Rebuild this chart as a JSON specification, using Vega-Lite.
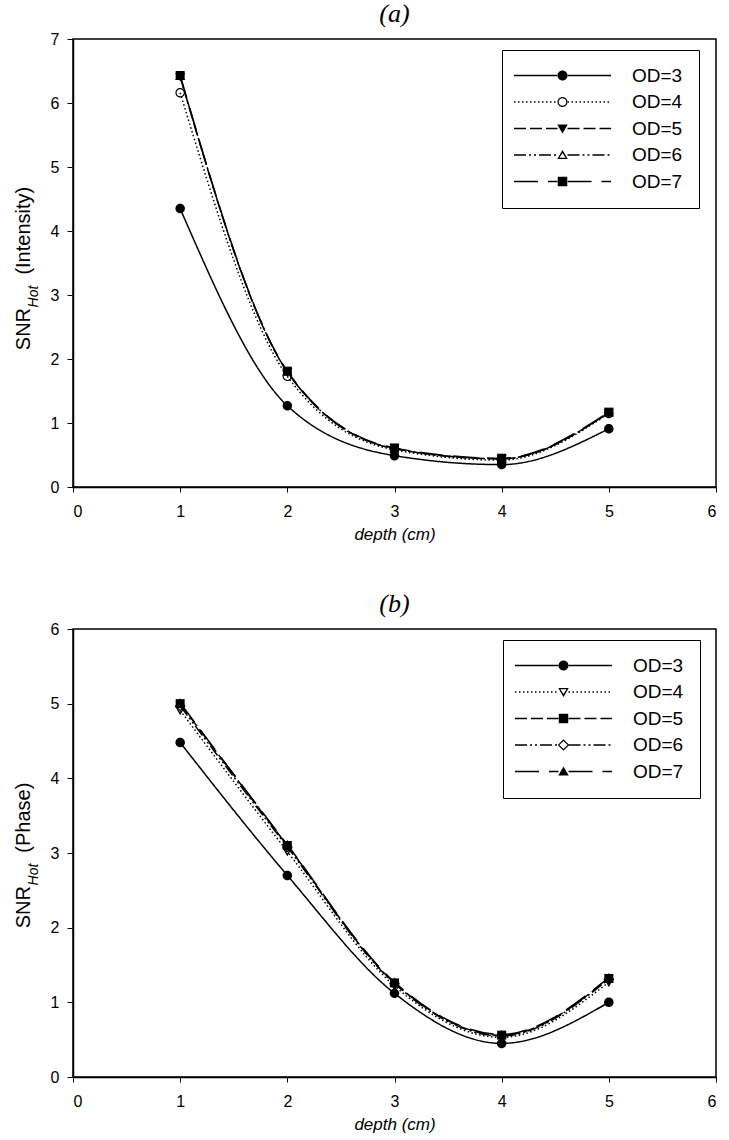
{
  "$schema": "https://vega.github.io/schema/vega-lite/v6.json",
  "background": "white",
  "padding": {"left": 12, "top": 0, "right": 5, "bottom": 5},
  "spacing": 47,
  "config": {
    "view": {"stroke": "black", "strokeWidth": 1.5},
    "font": "Liberation Sans",
    "axis": {"grid": false, "domainColor": "black", "domainWidth": 1.5, "tickColor": "black", "tickWidth": 1, "labelColor": "black", "titleColor": "black", "labelFont": "Liberation Sans", "titleFont": "Liberation Sans", "labelFontSize": 16, "titleFontWeight": "normal"},
    "title": {"font": "Liberation Serif", "fontStyle": "italic", "fontWeight": "normal", "fontSize": 26, "color": "black", "offset": 0}
  },
  "datasets": {
    "intensity": [
      {"od": "OD=3", "depth": 1, "snr": 4.35}, {"od": "OD=3", "depth": 2, "snr": 1.27}, {"od": "OD=3", "depth": 3, "snr": 0.49}, {"od": "OD=3", "depth": 4, "snr": 0.35}, {"od": "OD=3", "depth": 5, "snr": 0.91},
      {"od": "OD=4", "depth": 1, "snr": 6.16}, {"od": "OD=4", "depth": 2, "snr": 1.73}, {"od": "OD=4", "depth": 3, "snr": 0.58}, {"od": "OD=4", "depth": 4, "snr": 0.42}, {"od": "OD=4", "depth": 5, "snr": 1.15},
      {"od": "OD=5", "depth": 1, "snr": 6.41}, {"od": "OD=5", "depth": 2, "snr": 1.80}, {"od": "OD=5", "depth": 3, "snr": 0.60}, {"od": "OD=5", "depth": 4, "snr": 0.44}, {"od": "OD=5", "depth": 5, "snr": 1.16},
      {"od": "OD=6", "depth": 1, "snr": 6.42}, {"od": "OD=6", "depth": 2, "snr": 1.80}, {"od": "OD=6", "depth": 3, "snr": 0.60}, {"od": "OD=6", "depth": 4, "snr": 0.44}, {"od": "OD=6", "depth": 5, "snr": 1.16},
      {"od": "OD=7", "depth": 1, "snr": 6.43}, {"od": "OD=7", "depth": 2, "snr": 1.81}, {"od": "OD=7", "depth": 3, "snr": 0.61}, {"od": "OD=7", "depth": 4, "snr": 0.45}, {"od": "OD=7", "depth": 5, "snr": 1.17}
    ],
    "phase": [
      {"od": "OD=3", "depth": 1, "snr": 4.48}, {"od": "OD=3", "depth": 2, "snr": 2.70}, {"od": "OD=3", "depth": 3, "snr": 1.12}, {"od": "OD=3", "depth": 4, "snr": 0.45}, {"od": "OD=3", "depth": 5, "snr": 1.00},
      {"od": "OD=4", "depth": 1, "snr": 4.91}, {"od": "OD=4", "depth": 2, "snr": 3.02}, {"od": "OD=4", "depth": 3, "snr": 1.22}, {"od": "OD=4", "depth": 4, "snr": 0.53}, {"od": "OD=4", "depth": 5, "snr": 1.27},
      {"od": "OD=5", "depth": 1, "snr": 5.00}, {"od": "OD=5", "depth": 2, "snr": 3.10}, {"od": "OD=5", "depth": 3, "snr": 1.26}, {"od": "OD=5", "depth": 4, "snr": 0.56}, {"od": "OD=5", "depth": 5, "snr": 1.32},
      {"od": "OD=6", "depth": 1, "snr": 4.97}, {"od": "OD=6", "depth": 2, "snr": 3.08}, {"od": "OD=6", "depth": 3, "snr": 1.25}, {"od": "OD=6", "depth": 4, "snr": 0.55}, {"od": "OD=6", "depth": 5, "snr": 1.31},
      {"od": "OD=7", "depth": 1, "snr": 5.01}, {"od": "OD=7", "depth": 2, "snr": 3.11}, {"od": "OD=7", "depth": 3, "snr": 1.27}, {"od": "OD=7", "depth": 4, "snr": 0.57}, {"od": "OD=7", "depth": 5, "snr": 1.33}
    ]
  },
  "vconcat": [
    {
      "width": 643, "height": 448,
      "title": {"text": "(a)"},
      "data": {"name": "intensity"},
      "encoding": {
        "x": {"field": "depth", "type": "quantitative", "scale": {"domain": [0, 6], "nice": false},
              "axis": {"values": [0, 1, 2, 3, 4, 5, 6], "tickSize": 5, "labelPadding": 11, "title": "depth (cm)", "titleFontStyle": "italic", "titleFontSize": 17, "titlePadding": 7}}
      },
      "layer": [
        {
          "mark": {"type": "line", "interpolate": "monotone", "stroke": "black", "strokeWidth": 1.5},
          "encoding": {
            "y": {"field": "snr", "type": "quantitative", "scale": {"domain": [0, 7], "nice": false},
                  "axis": {"orient": "left", "values": [0, 1, 2, 3, 4, 5, 6, 7], "tickSize": 6, "labelPadding": 8, "title": "SNR\u00a0\u00a0\u00a0\u00a0\u00a0\u00a0(Intensity)", "titleFontSize": 20, "titleX": -50, "titleY": 229, "titleAlign": "center", "titleBaseline": "middle", "titleAngle": -90}},
            "strokeDash": {"field": "od", "type": "nominal", "scale": {"domain": ["OD=3", "OD=4", "OD=5", "OD=6", "OD=7"], "range": [[1, 0], [1.5, 2.5], [12, 4], [12, 3, 2, 3, 2, 3], [24, 10]]},
                  "legend": {"orient": "none", "legendX": 429, "legendY": 11, "title": null, "direction": "vertical", "symbolType": "M-9.7,0L-1,0M1,0L9.7,0", "symbolSize": 100, "symbolOffset": 35, "symbolStrokeWidth": 1.5, "symbolStrokeColor": "black", "symbolFillColor": "transparent", "labelFont": "Liberation Sans", "labelFontSize": 19, "labelColor": "black", "labelOffset": 60, "rowPadding": 6.5, "padding": 16, "strokeColor": "black", "cornerRadius": 0}}
          }
        },
        {
          "mark": {"type": "point", "filled": true, "color": "black", "strokeWidth": 0, "size": 90, "opacity": 1},
          "encoding": {
            "y": {"field": "snr", "type": "quantitative", "scale": {"domain": [0, 7], "nice": false},
                  "axis": {"orient": "right", "values": [0, 1, 2, 3, 4, 5, 6, 7], "labels": false, "ticks": false, "domain": false, "title": "Hot", "titleFontSize": 14, "titleFontStyle": "italic", "titleX": -683, "titleY": 257, "titleAlign": "center", "titleBaseline": "middle", "titleAngle": -90}},
            "shape": {"field": "od", "type": "nominal", "scale": {"range": [
                    "M1,0A1,1,0,1,1,-1,0A1,1,0,1,1,1,0Z",
                    "M1,0A1,1,0,1,1,-1,0A1,1,0,1,1,1,0ZM0.76,0A0.76,0.76,0,1,0,-0.76,0A0.76,0.76,0,1,0,0.76,0Z",
                    "M0,1L1.05,-0.8L-1.05,-0.8Z",
                    "M0,-1L1.05,0.8L-1.05,0.8ZM0,-0.42L-0.62,0.57L0.62,0.57Z",
                    "M-0.95,-0.95L0.95,-0.95L0.95,0.95L-0.95,0.95Z"]},
                  "legend": {"orient": "none", "legendX": 429, "legendY": 11, "title": null, "direction": "vertical", "symbolSize": 100, "symbolOffset": 35, "symbolStrokeWidth": 0, "symbolFillColor": "black", "labelFont": "Liberation Sans", "labelFontSize": 19, "labelOpacity": 0, "labelOffset": 60, "rowPadding": 6.5, "padding": 16}}
          }
        }
      ],
      "resolve": {"axis": {"y": "independent"}}
    },
    {
      "width": 643, "height": 448,
      "title": {"text": "(b)"},
      "data": {"name": "phase"},
      "encoding": {
        "x": {"field": "depth", "type": "quantitative", "scale": {"domain": [0, 6], "nice": false},
              "axis": {"values": [0, 1, 2, 3, 4, 5, 6], "tickSize": 5, "labelPadding": 11, "title": "depth (cm)", "titleFontStyle": "italic", "titleFontSize": 17, "titlePadding": 7}}
      },
      "layer": [
        {
          "mark": {"type": "line", "interpolate": "monotone", "stroke": "black", "strokeWidth": 1.5},
          "encoding": {
            "y": {"field": "snr", "type": "quantitative", "scale": {"domain": [0, 6], "nice": false},
                  "axis": {"orient": "left", "values": [0, 1, 2, 3, 4, 5, 6], "tickSize": 6, "labelPadding": 8, "title": "SNR\u00a0\u00a0\u00a0\u00a0\u00a0\u00a0(Phase)", "titleFontSize": 20, "titleX": -50, "titleY": 226, "titleAlign": "center", "titleBaseline": "middle", "titleAngle": -90}},
            "strokeDash": {"field": "od", "type": "nominal", "scale": {"domain": ["OD=3", "OD=4", "OD=5", "OD=6", "OD=7"], "range": [[1, 0], [1.5, 2.5], [12, 4], [12, 3, 2, 3, 2, 3], [24, 10]]},
                  "legend": {"orient": "none", "legendX": 430, "legendY": 11, "title": null, "direction": "vertical", "symbolType": "M-9.7,0L-1,0M1,0L9.7,0", "symbolSize": 100, "symbolOffset": 35, "symbolStrokeWidth": 1.5, "symbolStrokeColor": "black", "symbolFillColor": "transparent", "labelFont": "Liberation Sans", "labelFontSize": 19, "labelColor": "black", "labelOffset": 60, "rowPadding": 6.5, "padding": 16, "strokeColor": "black", "cornerRadius": 0}}
          }
        },
        {
          "mark": {"type": "point", "filled": true, "color": "black", "strokeWidth": 0, "size": 90, "opacity": 1},
          "encoding": {
            "y": {"field": "snr", "type": "quantitative", "scale": {"domain": [0, 6], "nice": false},
                  "axis": {"orient": "right", "values": [0, 1, 2, 3, 4, 5, 6], "labels": false, "ticks": false, "domain": false, "title": "Hot", "titleFontSize": 14, "titleFontStyle": "italic", "titleX": -683, "titleY": 245, "titleAlign": "center", "titleBaseline": "middle", "titleAngle": -90}},
            "shape": {"field": "od", "type": "nominal", "scale": {"range": [
                    "M1,0A1,1,0,1,1,-1,0A1,1,0,1,1,1,0Z",
                    "M0,1L1.05,-0.8L-1.05,-0.8ZM0,0.42L-0.62,-0.57L0.62,-0.57Z",
                    "M-0.95,-0.95L0.95,-0.95L0.95,0.95L-0.95,0.95Z",
                    "M0,-1.15L1.15,0L0,1.15L-1.15,0ZM0,-0.82L-0.82,0L0,0.82L0.82,0Z",
                    "M0,-1L1.05,0.8L-1.05,0.8Z"]},
                  "legend": {"orient": "none", "legendX": 430, "legendY": 11, "title": null, "direction": "vertical", "symbolSize": 100, "symbolOffset": 35, "symbolStrokeWidth": 0, "symbolFillColor": "black", "labelFont": "Liberation Sans", "labelFontSize": 19, "labelOpacity": 0, "labelOffset": 60, "rowPadding": 6.5, "padding": 16}}
          }
        }
      ],
      "resolve": {"axis": {"y": "independent"}}
    }
  ],
  "resolve": {"scale": {"x": "independent", "y": "independent", "shape": "independent", "strokeDash": "independent"}}
}
